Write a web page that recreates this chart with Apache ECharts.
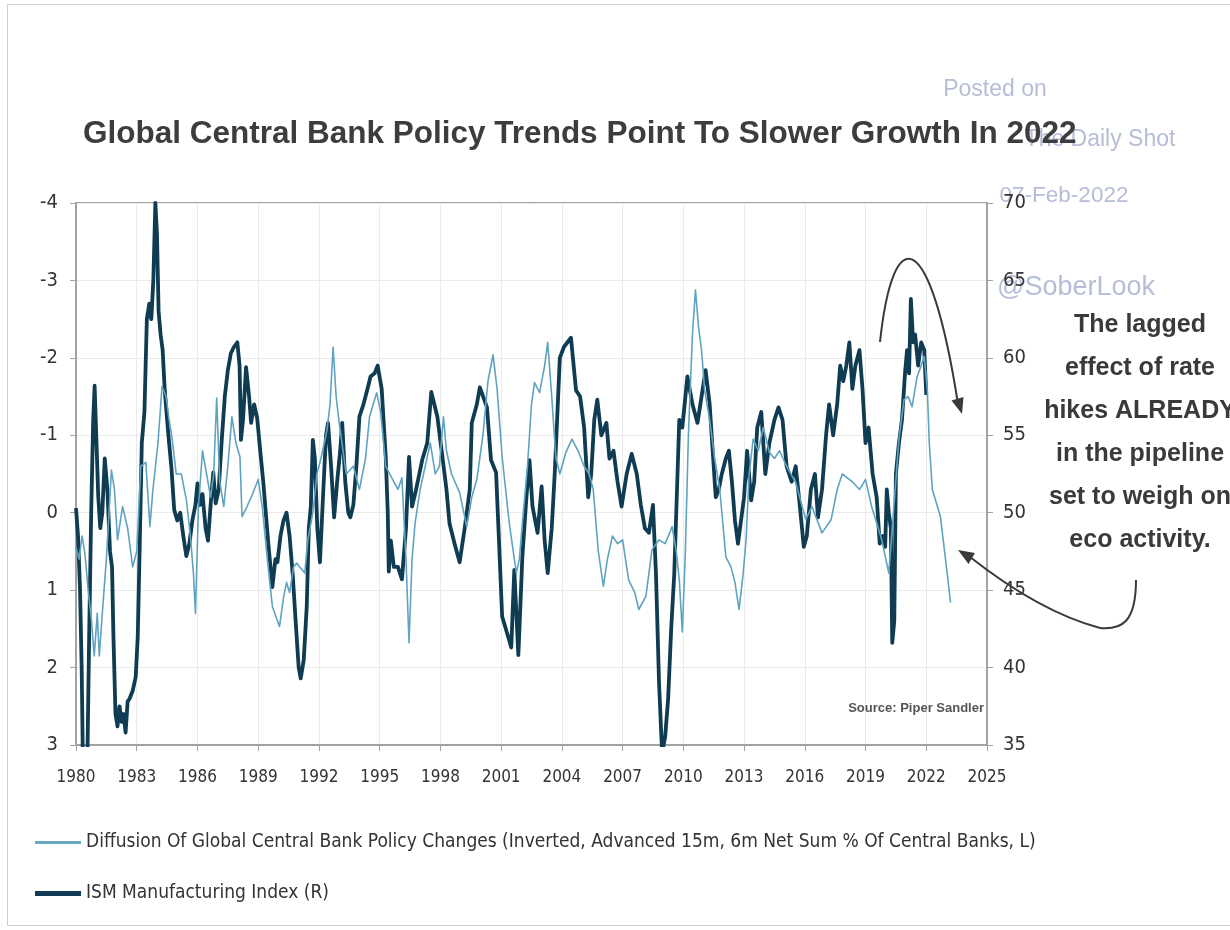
<!DOCTYPE html>
<html>
<head>
<meta charset="utf-8">
<title>Global Central Bank Policy Trends</title>
<script src="https://cdn.jsdelivr.net/npm/echarts@6/dist/echarts.min.js"></script>
<style>
  html, body { margin: 0; padding: 0; background: #ffffff; }
  #chart { width: 1230px; height: 930px; }
</style>
</head>
<body>
<div id="chart"></div>
<script>
// Diffusion of global central bank policy changes (inverted, advanced 15m), left axis
const diffusion = [
  [1980.0, 0.45], [1980.15, 0.6], [1980.3, 0.3], [1980.45, 0.55], [1980.6, 1.0], [1980.75, 1.35],
  [1980.9, 1.85], [1981.05, 1.3], [1981.15, 1.85], [1981.3, 1.3], [1981.5, 0.6], [1981.75, -0.55],
  [1981.9, -0.3], [1982.05, 0.35], [1982.3, -0.08], [1982.55, 0.2], [1982.8, 0.7], [1983.0, 0.5],
  [1983.2, -0.6], [1983.45, -0.65], [1983.65, 0.18], [1983.8, -0.3], [1984.05, -0.9], [1984.25, -1.63],
  [1984.45, -1.5], [1984.6, -1.2], [1984.75, -0.95], [1984.95, -0.5], [1985.2, -0.5], [1985.45, -0.17],
  [1985.65, 0.3], [1985.8, 0.78], [1985.9, 1.3], [1986.05, -0.08], [1986.25, -0.8], [1986.45, -0.5],
  [1986.65, -0.2], [1986.8, -0.5], [1986.95, -1.48], [1987.1, -0.4], [1987.3, -0.08], [1987.5, -0.6],
  [1987.7, -1.24], [1987.9, -0.9], [1988.1, -0.72], [1988.2, 0.05], [1988.45, -0.08], [1988.75, -0.26],
  [1989.0, -0.43], [1989.2, -0.08], [1989.45, 0.6], [1989.7, 1.21], [1990.05, 1.47], [1990.25, 1.1],
  [1990.4, 0.9], [1990.55, 1.03], [1990.75, 0.7], [1990.9, 0.65], [1991.05, 0.7], [1991.3, 0.78],
  [1991.45, 0.35], [1991.7, 0.0], [1991.9, -0.5], [1992.1, -0.7], [1992.4, -1.07], [1992.55, -1.4],
  [1992.7, -2.14], [1992.85, -1.5], [1993.0, -1.16], [1993.35, -0.5], [1993.7, -0.6], [1994.0, -0.3],
  [1994.3, -0.7], [1994.5, -1.24], [1994.85, -1.55], [1995.05, -1.3], [1995.3, -0.6], [1995.6, -0.45],
  [1995.9, -0.3], [1996.1, -0.45], [1996.3, 0.6], [1996.45, 1.68], [1996.6, 0.6], [1996.75, 0.13],
  [1997.0, -0.3], [1997.25, -0.6], [1997.5, -0.9], [1997.75, -0.5], [1997.95, -0.6], [1998.15, -1.24],
  [1998.3, -0.8], [1998.55, -0.5], [1998.95, -0.26], [1999.3, 0.18], [1999.55, -0.2], [1999.8, -0.43],
  [2000.1, -1.0], [2000.35, -1.7], [2000.6, -2.04], [2000.8, -1.6], [2001.05, -0.72], [2001.4, 0.13],
  [2001.75, 0.78], [2001.9, 0.6], [2002.05, 0.13], [2002.3, -0.6], [2002.5, -1.4], [2002.65, -1.68],
  [2002.9, -1.55], [2003.15, -1.9], [2003.3, -2.2], [2003.5, -1.5], [2003.7, -0.72], [2003.9, -0.5],
  [2004.2, -0.78], [2004.5, -0.95], [2004.8, -0.8], [2005.1, -0.6], [2005.35, -0.5], [2005.55, -0.3],
  [2005.8, 0.5], [2006.05, 0.95], [2006.25, 0.6], [2006.5, 0.3], [2006.75, 0.4], [2007.0, 0.35],
  [2007.3, 0.87], [2007.6, 1.03], [2007.8, 1.25], [2008.15, 1.08], [2008.45, 0.48], [2008.8, 0.35],
  [2009.1, 0.4], [2009.45, 0.18], [2009.65, 0.5], [2009.8, 0.87], [2009.95, 1.54], [2010.1, 0.5],
  [2010.25, -1.0], [2010.45, -2.3], [2010.6, -2.88], [2010.75, -2.4], [2010.9, -2.1], [2011.05, -1.59],
  [2011.3, -1.2], [2011.55, -0.7], [2011.8, -0.3], [2012.1, 0.57], [2012.35, 0.7], [2012.55, 0.9],
  [2012.75, 1.25], [2012.95, 0.8], [2013.1, 0.35], [2013.25, -0.5], [2013.45, -0.95], [2013.7, -0.8],
  [2013.95, -1.1], [2014.25, -0.78], [2014.5, -0.7], [2014.75, -0.8], [2015.1, -0.6], [2015.55, -0.39],
  [2016.05, 0.09], [2016.35, -0.08], [2016.85, 0.26], [2017.3, 0.09], [2017.6, -0.3], [2017.85, -0.5],
  [2018.1, -0.45], [2018.35, -0.4], [2018.7, -0.3], [2019.0, -0.43], [2019.3, -0.08], [2019.8, 0.35],
  [2020.15, 0.78], [2020.4, -0.08], [2020.65, -0.95], [2020.9, -1.46], [2021.1, -1.5], [2021.3, -1.37],
  [2021.55, -1.76], [2021.75, -1.9], [2021.9, -2.02], [2022.05, -1.6], [2022.15, -0.9], [2022.3, -0.3],
  [2022.7, 0.05], [2022.95, 0.6], [2023.2, 1.16]
];

// ISM Manufacturing Index, right axis
const ism = [
  [1980.0, 50.3], [1980.1, 48.5], [1980.2, 45], [1980.28, 40], [1980.36, 32], [1980.45, 30],
  [1980.55, 33], [1980.65, 42], [1980.75, 50], [1980.85, 56], [1980.92, 58.2], [1981.0, 55],
  [1981.1, 51], [1981.2, 49], [1981.3, 50], [1981.42, 53.5], [1981.55, 51.5], [1981.68, 47.5],
  [1981.78, 46.5], [1981.85, 42], [1981.95, 37], [1982.05, 36.2], [1982.15, 37.5], [1982.25, 36.5],
  [1982.35, 37], [1982.45, 35.8], [1982.55, 37.8], [1982.65, 38], [1982.8, 38.5], [1982.95, 39.4],
  [1983.05, 42], [1983.15, 48], [1983.25, 54.5], [1983.38, 56.5], [1983.5, 62.5], [1983.62, 63.5],
  [1983.72, 62.5], [1983.82, 65], [1983.92, 70], [1984.0, 68], [1984.08, 63], [1984.18, 61.5],
  [1984.28, 60.5], [1984.38, 58], [1984.5, 56], [1984.6, 54.5], [1984.72, 52.8], [1984.85, 50.2],
  [1985.0, 49.5], [1985.15, 50], [1985.3, 48.5], [1985.45, 47.2], [1985.6, 48], [1985.75, 49.5],
  [1985.9, 50.5], [1986.0, 51.9], [1986.12, 50.5], [1986.25, 51.2], [1986.4, 49], [1986.52, 48.2],
  [1986.65, 50.5], [1986.78, 52.6], [1986.9, 50.6], [1987.05, 51.5], [1987.2, 54.7], [1987.35, 57.5],
  [1987.5, 59.2], [1987.65, 60.3], [1987.8, 60.7], [1987.97, 61], [1988.08, 59.5], [1988.15, 54.7],
  [1988.25, 56], [1988.4, 59.4], [1988.55, 57.5], [1988.65, 55.8], [1988.8, 57], [1988.95, 56.1],
  [1989.1, 54], [1989.25, 52], [1989.35, 50.4], [1989.5, 48], [1989.7, 45.2], [1989.85, 47],
  [1989.95, 46.8], [1990.1, 48.5], [1990.25, 49.5], [1990.4, 50], [1990.55, 48.5], [1990.7, 46.1],
  [1990.85, 43], [1991.0, 40], [1991.1, 39.3], [1991.25, 40.5], [1991.4, 44], [1991.5, 49],
  [1991.6, 50.4], [1991.7, 54.7], [1991.8, 53.5], [1991.92, 49], [1992.05, 46.8], [1992.2, 51],
  [1992.35, 55], [1992.45, 55.8], [1992.6, 53], [1992.75, 49.7], [1992.9, 52], [1993.05, 54],
  [1993.15, 55.8], [1993.3, 52], [1993.45, 50], [1993.55, 49.7], [1993.7, 50.5], [1993.85, 53],
  [1994.0, 56.2], [1994.2, 57], [1994.4, 58], [1994.55, 58.8], [1994.75, 59], [1994.9, 59.5],
  [1995.1, 58], [1995.3, 53.6], [1995.4, 50], [1995.45, 46.2], [1995.55, 48.2], [1995.7, 46.5],
  [1995.9, 46.5], [1996.1, 45.7], [1996.3, 49], [1996.45, 53.6], [1996.6, 50.4], [1996.8, 51.5],
  [1997.1, 53.4], [1997.35, 54.5], [1997.55, 57.8], [1997.85, 56.2], [1998.1, 53.6], [1998.3, 51.5],
  [1998.45, 49.3], [1998.7, 48], [1998.95, 46.8], [1999.2, 49], [1999.45, 51.5], [1999.55, 55.8],
  [1999.8, 57], [1999.95, 58.1], [2000.3, 56.8], [2000.5, 53.4], [2000.75, 52.6], [2000.9, 48],
  [2001.05, 43.3], [2001.3, 42.2], [2001.5, 41.3], [2001.65, 46.3], [2001.85, 40.8], [2002.05, 47.2],
  [2002.25, 51], [2002.4, 53.4], [2002.55, 50.4], [2002.8, 48.7], [2003.0, 51.7], [2003.15, 48.2],
  [2003.3, 46.1], [2003.5, 49], [2003.65, 52.6], [2003.9, 60], [2004.1, 60.7], [2004.45, 61.3],
  [2004.7, 57.9], [2004.9, 57.5], [2005.1, 55.5], [2005.3, 51], [2005.45, 52.5], [2005.6, 56],
  [2005.75, 57.3], [2005.95, 55], [2006.2, 55.8], [2006.35, 53.5], [2006.55, 54], [2006.75, 52],
  [2006.95, 50.4], [2007.2, 52.5], [2007.45, 53.8], [2007.7, 52.5], [2007.9, 50.5], [2008.1, 49],
  [2008.3, 48.7], [2008.5, 50.5], [2008.65, 46], [2008.8, 39], [2008.95, 34.5], [2009.1, 35.5],
  [2009.25, 38], [2009.4, 42.5], [2009.55, 46], [2009.7, 52], [2009.8, 56], [2009.95, 55.5],
  [2010.2, 58.8], [2010.45, 57], [2010.7, 55.8], [2010.9, 57.5], [2011.1, 59.2], [2011.3, 57],
  [2011.45, 54], [2011.6, 51], [2011.75, 51.5], [2011.9, 52.5], [2012.1, 53.5], [2012.25, 54],
  [2012.4, 52], [2012.55, 49.5], [2012.7, 48], [2012.85, 49.5], [2013.0, 51], [2013.15, 54],
  [2013.35, 50.8], [2013.5, 52], [2013.65, 55.5], [2013.85, 56.5], [2014.05, 52.5], [2014.25, 54.5],
  [2014.5, 56], [2014.7, 56.8], [2014.9, 56], [2015.1, 53], [2015.35, 52], [2015.55, 53],
  [2015.75, 50.5], [2015.95, 47.8], [2016.1, 48.5], [2016.3, 51.5], [2016.5, 52.5], [2016.65, 49.7],
  [2016.85, 51.5], [2017.05, 55], [2017.2, 57], [2017.4, 55], [2017.6, 57], [2017.75, 59.5],
  [2017.9, 58.5], [2018.05, 59.5], [2018.2, 61], [2018.35, 58], [2018.5, 59.5], [2018.7, 60.5],
  [2018.85, 58], [2019.0, 54.5], [2019.15, 55.5], [2019.35, 52.5], [2019.55, 51], [2019.7, 48],
  [2019.85, 48.5], [2019.97, 47.8], [2020.05, 51.5], [2020.15, 50], [2020.25, 49], [2020.32, 41.6],
  [2020.42, 43], [2020.5, 52.5], [2020.65, 54.5], [2020.8, 56], [2020.95, 59], [2021.05, 60.5],
  [2021.15, 59], [2021.24, 63.8], [2021.35, 61], [2021.45, 61.5], [2021.6, 59.5], [2021.75, 61],
  [2021.9, 60.5], [2022.0, 57.6]
];

const seriesNames = [
  'Diffusion Of Global Central Bank Policy Changes (Inverted, Advanced 15m, 6m Net Sum % Of Central Banks, L)',
  'ISM Manufacturing Index (R)'
];
const titleText = 'Global Central Bank Policy Trends Point To Slower Growth In 2022';
const noteLines = ['The lagged', 'effect of rate', 'hikes ALREADY', 'in the pipeline', 'set to weigh on', 'eco activity.'];
const sourceText = 'Source: Piper Sandler';

const NARROW = "'DejaVu Sans Condensed', 'Liberation Sans', Arial, sans-serif";
const SANS = "'Liberation Sans', Arial, sans-serif";
const AXIS_GREY = '#a3a3a3';
const TEXT_DARK = '#333333';
const WATERMARK = '#b6bdd6';
const ARROW = '#3a3a3a';

const chart = echarts.init(document.getElementById('chart'), null, { renderer: 'canvas' });

chart.setOption({
  backgroundColor: '#ffffff',
  animation: false,
  title: {
    text: titleText,
    left: 78,
    top: 113,
    textStyle: { fontFamily: SANS, fontWeight: 'bold', fontSize: 31.5, color: '#3d3d3d' }
  },
  grid: {
    left: 76, right: 243, top: 203, bottom: 185,
    show: true, borderColor: AXIS_GREY, borderWidth: 2, backgroundColor: '#ffffff'
  },
  legend: {
    orient: 'vertical',
    left: 30,
    top: 828,
    itemWidth: 46,
    itemHeight: 14,
    itemGap: 32,
    textStyle: { fontFamily: NARROW, fontSize: 19, color: TEXT_DARK },
    data: [
      { name: seriesNames[0], icon: 'path://M0,0H46V3H0Z' },
      { name: seriesNames[1], icon: 'path://M0,0H46V5H0Z' }
    ]
  },
  xAxis: {
    type: 'value',
    min: 1980, max: 2025, interval: 3,
    axisLine: { show: true, onZero: false, lineStyle: { color: AXIS_GREY, width: 2 } },
    axisTick: { show: true, length: 6, lineStyle: { color: AXIS_GREY } },
    axisLabel: { margin: 24, fontFamily: NARROW, fontSize: 17, color: TEXT_DARK, formatter: v => String(v) },
    splitLine: { show: true, lineStyle: { color: '#ebebeb', width: 1 } }
  },
  yAxis: [
    {
      type: 'value',
      inverse: true,
      min: -4, max: 3, interval: 1,
      axisLine: { show: true, onZero: false, lineStyle: { color: AXIS_GREY, width: 2 } },
      axisTick: { show: true, length: 6, lineStyle: { color: AXIS_GREY } },
      axisLabel: { margin: 18, fontFamily: NARROW, fontSize: 20, color: TEXT_DARK },
      splitLine: { show: true, lineStyle: { color: '#ebebeb', width: 1 } }
    },
    {
      type: 'value',
      position: 'right',
      min: 35, max: 70, interval: 5,
      axisLine: { show: true, onZero: false, lineStyle: { color: AXIS_GREY, width: 2 } },
      axisTick: { show: true, length: 6, lineStyle: { color: AXIS_GREY } },
      axisLabel: { margin: 16, fontFamily: NARROW, fontSize: 20, color: TEXT_DARK },
      splitLine: { show: false }
    }
  ],
  series: [
    {
      name: seriesNames[1],
      type: 'line',
      yAxisIndex: 1,
      data: ism,
      symbol: 'none',
      clip: true,
      z: 2,
      color: '#0f3c52',
      lineStyle: { color: '#0f3c52', width: 3.8, join: 'round' }
    },
    {
      name: seriesNames[0],
      type: 'line',
      yAxisIndex: 0,
      data: diffusion,
      symbol: 'none',
      clip: true,
      z: 3,
      color: '#6aa9c4',
      lineStyle: { color: '#5fa3c1', width: 1.6, join: 'round' }
    }
  ],
  graphic: [
    // page frame
    { type: 'rect', silent: true, z: -10,
      shape: { x: 7.5, y: 4.5, width: 1240, height: 921 },
      style: { fill: null, stroke: '#cfcfcf', lineWidth: 1 } },
    // watermark
    { type: 'text', z: -5, x: 995, y: 90,
      style: { text: 'Posted on', fill: WATERMARK, font: "23px " + SANS, textAlign: 'center', textVerticalAlign: 'middle' } },
    { type: 'text', z: -5, x: 1100, y: 140,
      style: { text: 'The Daily Shot', fill: WATERMARK, font: "23px " + SANS, textAlign: 'center', textVerticalAlign: 'middle' } },
    { type: 'text', z: -5, x: 1064, y: 196,
      style: { text: '07-Feb-2022', fill: WATERMARK, font: "22.5px " + SANS, textAlign: 'center', textVerticalAlign: 'middle' } },
    { type: 'text', z: -5, x: 1076, y: 288,
      style: { text: '@SoberLook', fill: WATERMARK, font: "27px " + SANS, textAlign: 'center', textVerticalAlign: 'middle' } },
    // commentary
    { type: 'text', z: 10, x: 1140, y: 304,
      style: { text: noteLines.join('\n'), fill: ARROW, font: "bold 25px " + SANS,
               textAlign: 'center', textVerticalAlign: 'top', lineHeight: 43 } },
    { type: 'text', z: 10, x: 984, y: 708,
      style: { text: sourceText, fill: '#555555', font: "bold 13px " + SANS, textAlign: 'right', textVerticalAlign: 'middle' } },
    // arrow over the latest ISM peak
    { type: 'bezierCurve', z: 10,
      shape: { x1: 880, y1: 342, cpx1: 893, cpy1: 220, cpx2: 930, cpy2: 225, x2: 958, y2: 404 },
      style: { fill: null, stroke: ARROW, lineWidth: 2 } },
    { type: 'polygon', z: 10,
      shape: { points: [[962, 414], [963.5, 397], [951.5, 400.5]] },
      style: { fill: ARROW } },
    // arrow towards the falling diffusion line
    { type: 'bezierCurve', z: 10,
      shape: { x1: 1136, y1: 580, cpx1: 1136, cpy1: 622, cpx2: 1122, cpy2: 630, x2: 1100, y2: 628 },
      style: { fill: null, stroke: ARROW, lineWidth: 2 } },
    { type: 'bezierCurve', z: 10,
      shape: { x1: 1100, y1: 628, cpx1: 1040, cpy1: 612, x2: 970, y2: 557 },
      style: { fill: null, stroke: ARROW, lineWidth: 2 } },
    { type: 'polygon', z: 10,
      shape: { points: [[958, 550], [975, 553], [968.5, 564]] },
      style: { fill: ARROW } }
  ]
});
</script>
</body>
</html>
